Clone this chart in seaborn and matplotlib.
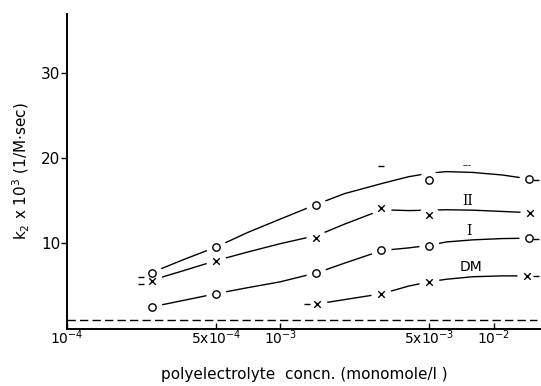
import numpy as np
import pandas as pd
import matplotlib
matplotlib.use("Agg")
import matplotlib.pyplot as plt
import seaborn as sns

# ---------------- data ----------------
# measured points (concentration in monomole/l, k2 x 10^3)
top_x = [2.5e-4, 5.0e-4, 1.47e-3, 4.97e-3, 1.47e-2]
top_y = [6.45, 9.5, 14.5, 17.4, 17.5]

ii_x = [2.5e-4, 5.0e-4, 1.47e-3, 2.96e-3, 4.97e-3, 1.48e-2]
ii_y = [5.5, 7.9, 10.6, 14.1, 13.3, 13.55]

i_x = [2.5e-4, 5.0e-4, 1.47e-3, 2.96e-3, 4.97e-3, 1.47e-2]
i_y = [2.45, 4.0, 6.45, 9.1, 9.6, 10.55]

dm_x = [1.48e-3, 2.96e-3, 4.97e-3, 1.43e-2]
dm_y = [2.76, 3.95, 5.35, 6.06]

# hand-drawn guide curves
curve_x = [2.5e-4, 3.5e-4, 5e-4, 7e-4, 1e-3, 1.5e-3, 2e-3, 3e-3,
           4e-3, 5e-3, 6e-3, 8e-3, 1.1e-2, 1.5e-2]
top_curve = [6.5, 8.0, 9.5, 11.2, 12.8, 14.6, 15.8, 17.0,
             17.8, 18.2, 18.4, 18.3, 18.0, 17.5]
ii_curve = [5.6, 6.7, 7.9, 8.9, 9.9, 10.9, 12.2, 13.9,
            13.8, 13.85, 13.9, 13.85, 13.7, 13.55]
i_curve = [2.45, 3.2, 4.0, 4.7, 5.4, 6.5, 7.6, 9.1,
           9.4, 9.7, 10.1, 10.35, 10.5, 10.55]
dm_curve_x = [1.5e-3, 2e-3, 3e-3, 4e-3, 5e-3, 6e-3, 8e-3, 1.1e-2, 1.45e-2]
dm_curve = [2.8, 3.3, 4.0, 4.9, 5.4, 5.7, 6.0, 6.1, 6.1]

# reference level (dashed)
ref_x = [1e-4, 1.6e-2]
ref_y = [0.9, 0.9]

# small range marks
tick_x = [2.22e-4, 2.22e-4, 1.34e-3, 1.58e-2, 1.58e-2, 1.58e-2, 2.96e-3]
tick_y = [6.0, 5.2, 2.76, 17.4, 10.5, 6.06, 19.1]

# ---------------- plot ----------------
sns.set_style("ticks")
plt.rcParams['font.family'] = ['DejaVu Sans']
for k in ['text.color', 'axes.labelcolor', 'xtick.color', 'ytick.color', 'axes.edgecolor']:
    plt.rcParams[k] = 'black'

fig = plt.figure(figsize=(5.41, 3.86), dpi=100)
ax = fig.add_axes([0.124, 0.148, 0.876, 0.816])

lines = [(curve_x, top_curve), (curve_x, ii_curve), (curve_x, i_curve), (dm_curve_x, dm_curve)]
for cx, cy in lines:
    sns.lineplot(x=cx, y=cy, ax=ax, color='black', linewidth=1.0, zorder=1)

sns.lineplot(x=ref_x, y=ref_y, ax=ax, color='black', linewidth=1.0,
             linestyle=(0, (6, 3)), zorder=1)

# white halos so curves stop short of the markers
all_x = top_x + ii_x + i_x + dm_x
all_y = top_y + ii_y + i_y + dm_y
ax.scatter(all_x, all_y, s=210, color='white', zorder=2, linewidths=0)

for px, py in [(top_x, top_y), (i_x, i_y)]:
    ax.scatter(px, py, s=28, facecolor='white', edgecolor='black',
               linewidths=1.0, marker='o', zorder=3)
for px, py in [(ii_x, ii_y), (dm_x, dm_y)]:
    ax.scatter(px, py, s=22, color='black', linewidths=1.0, marker='x', zorder=3)

ax.scatter(tick_x, tick_y, s=20, color='black', marker='_', linewidths=1.0, zorder=3)
ax.text(7.5e-3, 19.1, '---', fontsize=6, ha='center', va='center')

ax.text(7.6e-3, 14.9, 'II', fontsize=10, family='DejaVu Serif', ha='center', va='center')
ax.text(7.7e-3, 11.4, 'I', fontsize=10, family='DejaVu Serif', ha='center', va='center')
ax.text(7.8e-3, 7.2, 'DM', fontsize=10, ha='center', va='center')

ax.set_xscale('log')
ax.set_xlim(1e-4, 1.67e-2)
ax.set_ylim(-0.15, 37)
ax.set_xticks([1e-4, 5e-4, 1e-3, 5e-3, 1e-2])
ax.set_xticklabels(['10$^{-4}$', '5x10$^{-4}$', '10$^{-3}$', '5x10$^{-3}$', '10$^{-2}$'])
ax.xaxis.set_minor_locator(matplotlib.ticker.NullLocator())
ax.set_yticks([10, 20, 30])
ax.tick_params(axis='x', direction='in', length=4, width=1, labelsize=10, pad=0)
ax.tick_params(axis='y', direction='out', length=4, width=1, labelsize=11, pad=1)

ax.set_xlabel('polyelectrolyte  concn. (monomole/l )', fontsize=11, labelpad=14)
ax.set_ylabel('k$_2$ x 10$^3$ (1/M$\\cdot$sec)', fontsize=11, labelpad=6)

sns.despine(ax=ax)
ax.spines['left'].set_linewidth(1.4)
ax.spines['bottom'].set_linewidth(1.4)

fig.savefig('out.png', dpi=100)
